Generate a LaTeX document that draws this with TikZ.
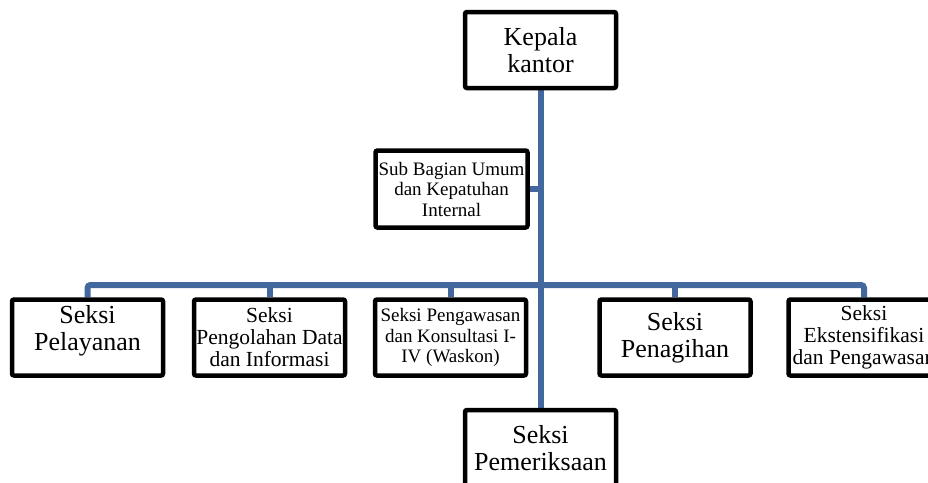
\documentclass[tikz,border=0pt]{standalone}
\usepackage{fontspec}
\setmainfont{Liberation Serif}
\usetikzlibrary{positioning, backgrounds}
\definecolor{linkblue}{RGB}{66,104,158}
\tikzset{
  unit/.style={rectangle, draw, line width=4.5pt, rounded corners=2pt, fill=white,
    minimum width=151pt, minimum height=76pt, inner sep=0pt, align=center},
  bigtext/.style={font=\fontsize{26}{27}\selectfont},
  midtext/.style={font=\fontsize{21.5}{22}\selectfont},
  smalltext/.style={font=\fontsize{19}{20.5}\selectfont},
  link/.style={draw=linkblue, line width=6pt, rounded corners=3pt},
}
\begin{document}
\begin{tikzpicture}[x=1pt, y=-1pt]
\clip (0,0) rectangle (928,482);
\node[unit, bigtext] (kepala) at (540.5,50) {Kepala\\kantor};
\node[unit, smalltext, minimum width=152pt, minimum height=77pt] (umum) at (451.5,189) {Sub Bagian Umum\\dan Kepatuhan\\Internal};
% seksi
\node[unit, bigtext, text depth=20pt] (pelayanan) at (87.5,337.5) {Seksi\\Pelayanan};
\node[unit, midtext] (pdi) at (269.5,337.5) {Seksi\\Pengolahan Data\\dan Informasi};
\node[unit, smalltext] (waskon) at (450.5,337.5) {Seksi Pengawasan\\dan Konsultasi I-\\IV (Waskon)};
\node[unit, bigtext] (penagihan) at (675,337.5) {Seksi\\Penagihan};
\node[unit, midtext] (ekstensifikasi) at (864,337.5) {Seksi\\Ekstensifikasi\\dan Pengawasan};
\node[unit, bigtext] (pemeriksaan) at (540.5,448) {Seksi\\Pemeriksaan};
\coordinate (bus) at (540.5,285);
\begin{scope}[on background layer]
\draw[link] (kepala.south) -- (pemeriksaan.north);
\draw[link] (umum.east) -- (umum.east -| kepala.south);
\draw[link] (pelayanan.north) |- (bus) -| (ekstensifikasi.north);
\foreach \n in {pdi, waskon, penagihan}
  \draw[link] (\n.north) -- (\n.north |- bus);
\end{scope}
\end{tikzpicture}
\end{document}
